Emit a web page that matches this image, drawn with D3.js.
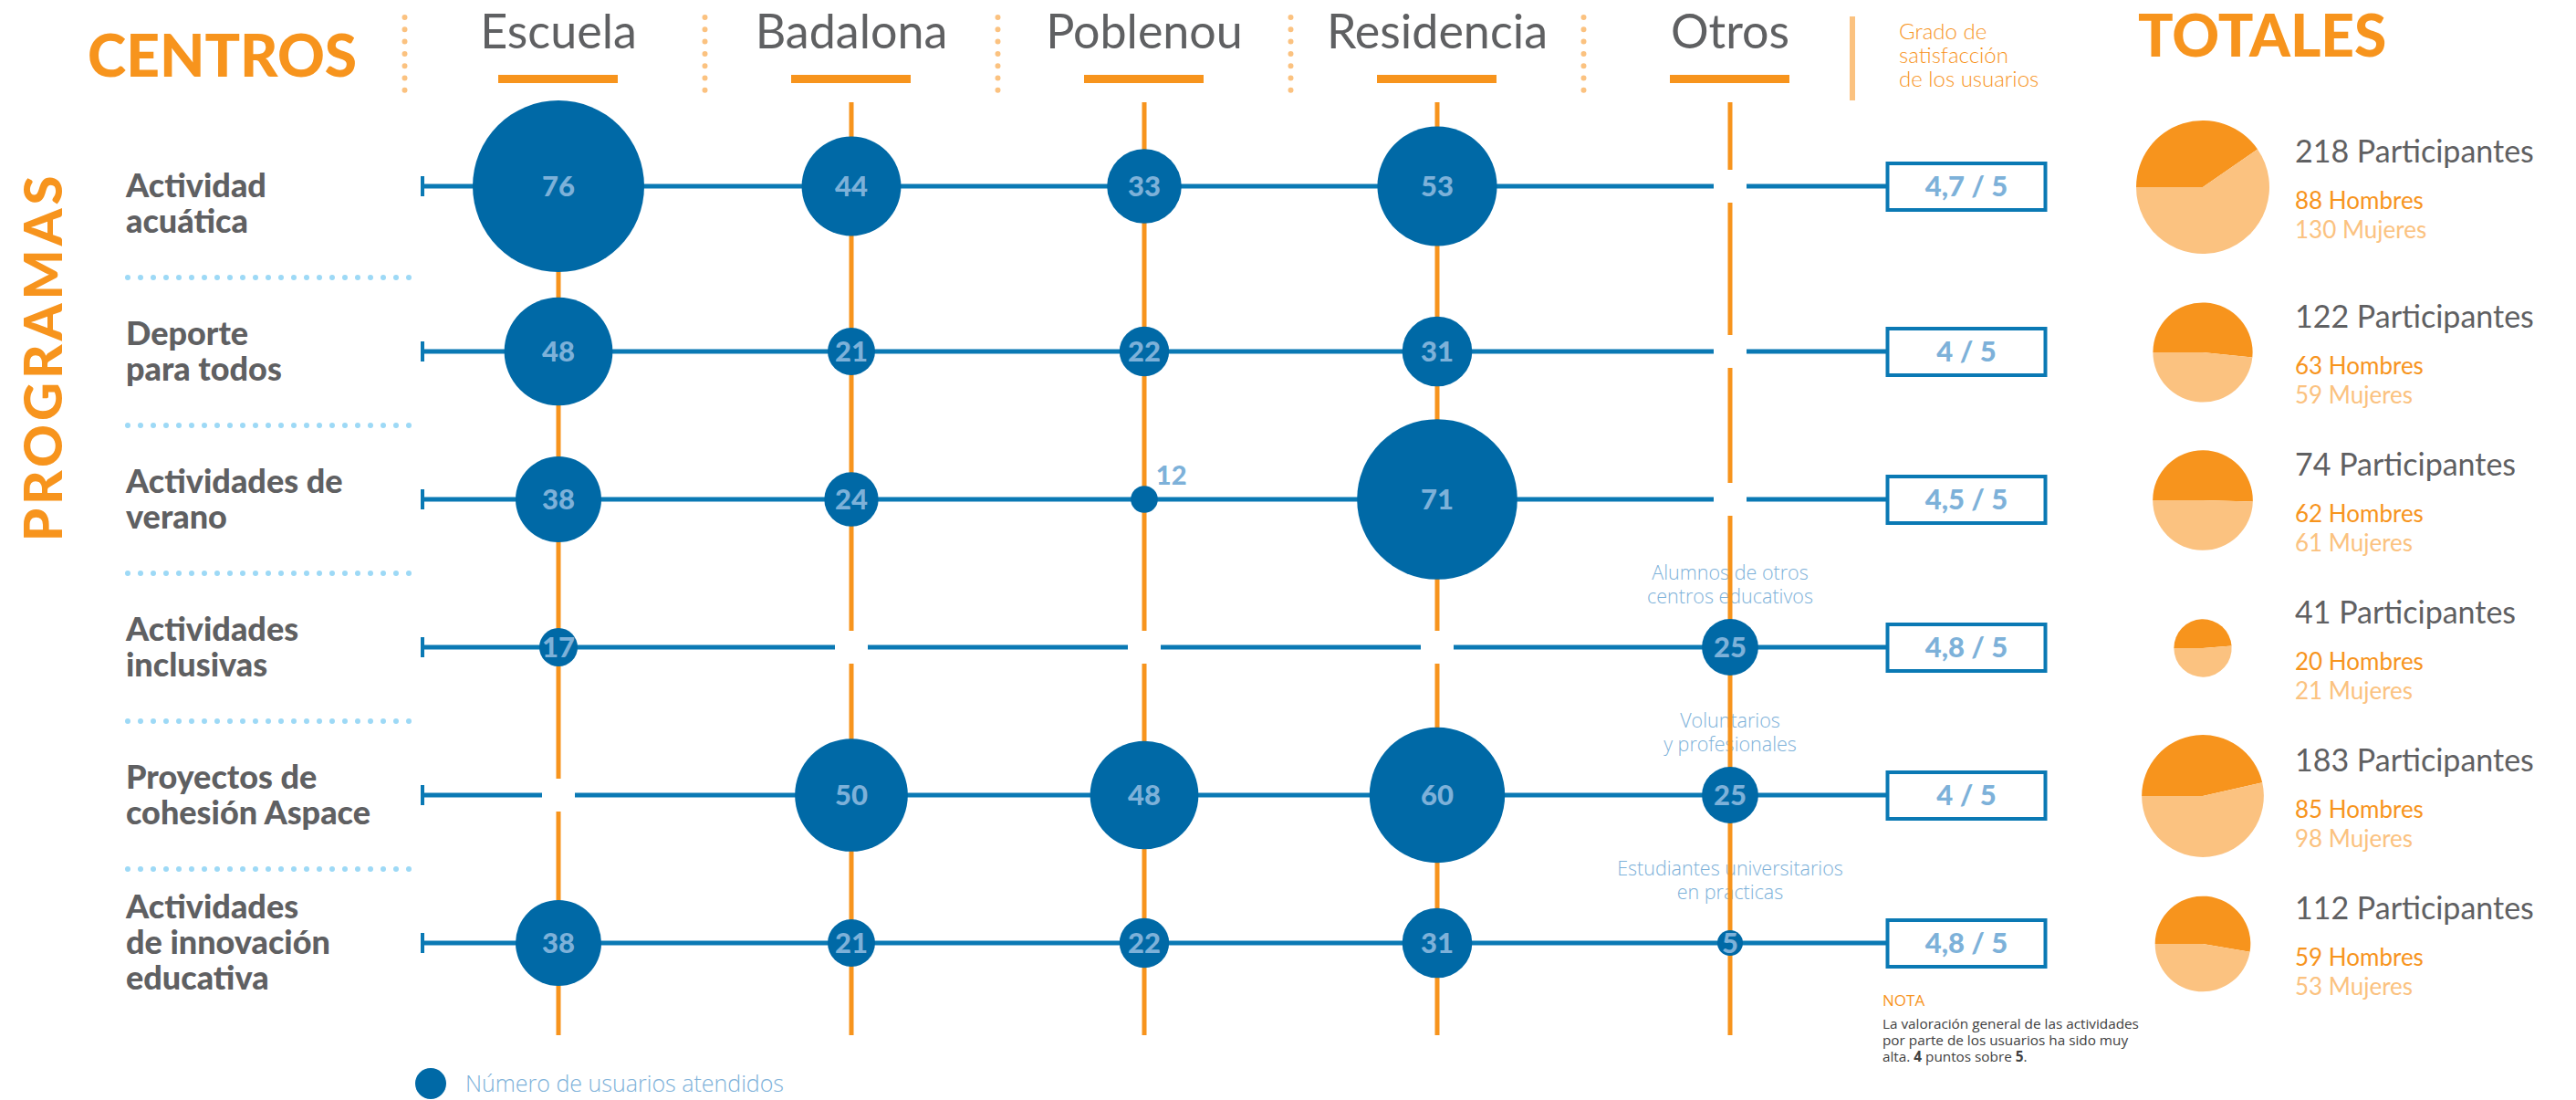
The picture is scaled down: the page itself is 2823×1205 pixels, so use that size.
<!DOCTYPE html>
<html>
<head>
<meta charset="utf-8">
<script src="https://cdn.jsdelivr.net/npm/d3@7"></script>
<style>
  html, body { margin: 0; padding: 0; background: #fff; }
  svg { display: block; font-family: Lato, "Noto Sans", sans-serif; }
</style>
</head>
<body>
<svg id="chart" width="2823" height="1205"></svg>
<script>
// --- datos ---
var centros = ["Escuela", "Badalona", "Poblenou", "Residencia", "Otros"];
var programas = [
    "Actividad acuática",
    "Deporte para todos",
    "Actividades de verano",
    "Actividades inclusivas",
    "Proyectos de cohesión Aspace",
    "Actividades de innovación educativa"
];
var etiquetasProgramas = [
    ["Actividad", "acuática"],
    ["Deporte", "para todos"],
    ["Actividades de", "verano"],
    ["Actividades", "inclusivas"],
    ["Proyectos de", "cohesión Aspace"],
    ["Actividades", "de innovación", "educativa"]
];
// usuarios atendidos, una fila por programa, una columna por centro (null = sin dato)
var usuarios = [
    [76, 44, 33, 53, null],
    [48, 21, 22, 31, null],
    [38, 24, 12, 71, null],
    [17, null, null, null, 25],
    [null, 50, 48, 60, 25],
    [38, 21, 22, 31, 5]
];
var satisfaccion = ["4,7 / 5", "4 / 5", "4,5 / 5", "4,8 / 5", "4 / 5", "4,8 / 5"];
var notasOtros = [
    null, null, null,
    ["Alumnos de otros", "centros educativos"],
    ["Voluntarios", "y profesionales"],
    ["Estudiantes universitarios", "en prácticas"]
];
var participantes = [218, 122, 74, 41, 183, 112];
var hombres = [88, 63, 62, 20, 85, 59];
var mujeres = [130, 59, 61, 21, 98, 53];

// --- colores ---
var naranja = "#F7941D",
    naranjaClaro = "#FBC280",
    azul = "#0069A6",
    azulLinea = "#0A79B4",
    azulTexto = "#7DB1D9",
    azulPuntos = "#9DD9F6",
    gris = "#5F6062";

var svg = d3.select("#chart");

var x = d3.scalePoint().domain(centros).range([612, 1896]);
var band = d3.scaleBand().domain(programas).range([142, 1114]);
// la primera fila va un poco mas arriba en el original
var rowNudge = [-19, 0, 0, 0, 0, 0];
function rowY(i) {
    return band(programas[i]) + band.bandwidth() / 2 + rowNudge[i];
}
var r = d3.scaleLinear().domain([0, 76]).range([0, 94]);
var pieR = d3.scaleSqrt().domain([0, 218]).range([0, 73]);

var cells = [];
usuarios.forEach(function(row, i) {
    row.forEach(function(v, j) {
        cells.push({row: i, centro: centros[j], value: v});
    });
});

// --- cabecera ---
svg.append("text")
    .attr("x", 96).attr("y", 84)
    .attr("fill", naranja)
    .style("font-size", "64px").style("font-weight", 900)
    .text("CENTROS");

svg.append("text")
    .attr("transform", "translate(68,391) rotate(-90)")
    .attr("text-anchor", "middle")
    .attr("fill", naranja)
    .style("font-size", "58px").style("font-weight", 900)
    .style("letter-spacing", "4px")
    .text("PROGRAMAS");

var head = svg.append("g").attr("class", "head");
head.selectAll("text")
    .data(centros)
    .enter().append("text")
    .attr("x", function(d) { return x(d); })
    .attr("y", 53)
    .attr("text-anchor", "middle")
    .attr("fill", gris)
    .style("font-size", "52px")
    .text(function(d) { return d; });

head.selectAll("rect")
    .data(centros)
    .enter().append("rect")
    .attr("x", function(d) { return x(d) - 66; })
    .attr("y", 82)
    .attr("width", 131)
    .attr("height", 9)
    .attr("fill", naranja);

// separadores punteados entre centros
var sepX = [x(centros[0]) - x.step() / 2 - 8];
for (var k = 1; k < centros.length; k++) {
    sepX.push((x(centros[k - 1]) + x(centros[k])) / 2);
}
head.selectAll("line")
    .data(sepX)
    .enter().append("line")
    .attr("x1", function(d) { return d; })
    .attr("x2", function(d) { return d; })
    .attr("y1", 19).attr("y2", 112)
    .attr("stroke", naranjaClaro)
    .attr("stroke-width", 6)
    .attr("stroke-linecap", "round")
    .attr("stroke-dasharray", "0 13.3");

// grado de satisfaccion (cabecera)
svg.append("rect")
    .attr("x", 2027).attr("y", 18)
    .attr("width", 6).attr("height", 92)
    .attr("fill", naranjaClaro);
svg.append("text")
    .attr("x", 2081).attr("y", 43)
    .attr("fill", naranja)
    .style("font-size", "24px").style("font-weight", 300)
    .selectAll("tspan")
    .data(["Grado de", "satisfacción", "de los usuarios"])
    .enter().append("tspan")
    .attr("x", 2081)
    .attr("dy", function(d, i) { return i ? 26 : 0; })
    .text(function(d) { return d; });

svg.append("text")
    .attr("x", 2343).attr("y", 62)
    .attr("fill", naranja)
    .style("font-size", "64px").style("font-weight", 900)
    .text("TOTALES");

// --- etiquetas de programas ---
var labels = svg.append("g").attr("class", "labels");
labels.selectAll("text")
    .data(programas)
    .enter().append("text")
    .attr("fill", gris)
    .style("font-size", "36px").style("font-weight", 900)
    .each(function(d, i) {
        var lines = etiquetasProgramas[i];
        var cy = band(d) + band.bandwidth() / 2;
        var y0 = cy - (lines.length - 1) * 39 / 2 + 12;
        d3.select(this).selectAll("tspan")
            .data(lines)
            .enter().append("tspan")
            .attr("x", 138)
            .attr("y", function(t, j) { return y0 + j * 39; })
            .text(function(t) { return t; });
    });

labels.selectAll("line")
    .data(programas.slice(1))
    .enter().append("line")
    .attr("x1", 140).attr("x2", 460)
    .attr("y1", function(d) { return band(d); })
    .attr("y2", function(d) { return band(d); })
    .attr("stroke", azulPuntos)
    .attr("stroke-width", 6)
    .attr("stroke-linecap", "round")
    .attr("stroke-dasharray", "0 14");

// --- notas de la columna Otros ---
var notas = svg.append("g").attr("class", "notas");
notasOtros.forEach(function(n, i) {
    if (!n) return;
    notas.append("text")
        .attr("text-anchor", "middle")
        .attr("fill", azulTexto)
        .style("font-family", "'Open Sans', sans-serif")
        .style("font-size", "21.5px").style("font-weight", 300)
        .selectAll("tspan")
        .data(n)
        .enter().append("tspan")
        .attr("x", x("Otros"))
        .attr("y", function(t, j) { return rowY(i) - 74 + j * 26; })
        .text(function(t) { return t; });
});

// --- rejilla ---
var grid = svg.append("g").attr("class", "grid");
grid.selectAll("line.v")
    .data(centros)
    .enter().append("line")
    .attr("class", "v")
    .attr("x1", function(d) { return x(d); })
    .attr("x2", function(d) { return x(d); })
    .attr("y1", 112).attr("y2", 1134)
    .attr("stroke", naranja)
    .attr("stroke-width", 5);

grid.selectAll("line.h")
    .data(programas)
    .enter().append("line")
    .attr("class", "h")
    .attr("x1", 462).attr("x2", 2067)
    .attr("y1", function(d, i) { return rowY(i); })
    .attr("y2", function(d, i) { return rowY(i); })
    .attr("stroke", azulLinea)
    .attr("stroke-width", 5);

grid.selectAll("line.tick")
    .data(programas)
    .enter().append("line")
    .attr("class", "tick")
    .attr("x1", 463).attr("x2", 463)
    .attr("y1", function(d, i) { return rowY(i) - 11; })
    .attr("y2", function(d, i) { return rowY(i) + 11; })
    .attr("stroke", azulLinea)
    .attr("stroke-width", 4);

// huecos blancos donde no hay dato
grid.selectAll("rect.gap")
    .data(cells.filter(function(c) { return c.value === null; }))
    .enter().append("rect")
    .attr("class", "gap")
    .attr("x", function(d) { return x(d.centro) - 18; })
    .attr("y", function(d) { return rowY(d.row) - 18; })
    .attr("width", 36).attr("height", 36)
    .attr("fill", "#fff");

// --- burbujas ---
var bubbles = svg.append("g").attr("class", "bubbles")
    .selectAll("g")
    .data(cells.filter(function(c) { return c.value !== null; }))
    .enter().append("g")
    .attr("transform", function(d) {
        return "translate(" + x(d.centro) + "," + rowY(d.row) + ")";
    });

bubbles.append("circle")
    .attr("r", function(d) { return Math.max(r(d.value), 14); })
    .attr("fill", azul);

bubbles.append("text")
    .attr("fill", azulTexto)
    .style("font-weight", 900)
    .each(function(d) {
        var rad = Math.max(r(d.value), 14);
        var outside = rad < 16 && String(d.value).length > 1;
        d3.select(this)
            .attr("text-anchor", outside ? "start" : "middle")
            .attr("x", outside ? rad - 2 : 0)
            .attr("y", outside ? -rad - 1 : 11)
            .style("font-size", outside ? "29px" : "31px");
    })
    .text(function(d) { return d.value; });

// --- grado de satisfaccion por programa ---
var boxes = svg.append("g").attr("class", "boxes")
    .selectAll("g")
    .data(satisfaccion)
    .enter().append("g")
    .attr("transform", function(d, i) { return "translate(2067," + rowY(i) + ")"; });

boxes.append("rect")
    .attr("x", 1.5).attr("y", -25)
    .attr("width", 173).attr("height", 51)
    .attr("fill", "#fff")
    .attr("stroke", azulLinea)
    .attr("stroke-width", 4);

boxes.append("text")
    .attr("x", 88).attr("y", 11)
    .attr("text-anchor", "middle")
    .attr("fill", azulTexto)
    .style("font-size", "31px").style("font-weight", 900)
    .text(function(d) { return d; });

// --- totales ---
var pie = d3.pie().sort(null).startAngle(-Math.PI / 2).endAngle(Math.PI * 1.5);
var arc = d3.arc().innerRadius(0);

var totals = svg.append("g").attr("class", "totals")
    .selectAll("g")
    .data(participantes)
    .enter().append("g")
    .attr("transform", function(d, i) { return "translate(2414," + (rowY(i) + 1) + ")"; });

totals.each(function(d, i) {
    var g = d3.select(this);
    var rad = pieR(hombres[i] + mujeres[i]);
    g.selectAll("path")
        .data(pie([hombres[i], mujeres[i]]))
        .enter().append("path")
        .attr("d", function(s) { return arc.outerRadius(rad)(s); })
        .attr("fill", function(s, k) { return k ? naranjaClaro : naranja; });

    g.append("text")
        .attr("x", 101).attr("y", -27)
        .attr("fill", gris)
        .style("font-size", "34px")
        .text(d + " Participantes");
    g.append("text")
        .attr("x", 101).attr("y", 24)
        .attr("fill", naranja)
        .style("font-size", "26px")
        .text(hombres[i] + " Hombres");
    g.append("text")
        .attr("x", 101).attr("y", 56)
        .attr("fill", naranjaClaro)
        .style("font-size", "26px")
        .text(mujeres[i] + " Mujeres");
});

// --- nota ---
var nota = svg.append("g").attr("class", "nota")
    .style("font-family", "'Open Sans', sans-serif");
nota.append("text")
    .attr("x", 2063).attr("y", 1102)
    .attr("fill", naranja)
    .style("font-size", "17px")
    .text("NOTA");
var notaTxt = nota.append("text")
    .attr("fill", "#404040")
    .style("font-size", "15.3px");
notaTxt.append("tspan").attr("x", 2063).attr("y", 1127)
    .text("La valoración general de las actividades");
notaTxt.append("tspan").attr("x", 2063).attr("y", 1145)
    .text("por parte de los usuarios ha sido muy");
var l3 = notaTxt.append("tspan").attr("x", 2063).attr("y", 1163);
l3.append("tspan").text("alta. ");
l3.append("tspan").style("font-weight", 700).text("4");
l3.append("tspan").text(" puntos sobre ");
l3.append("tspan").style("font-weight", 700).text("5");
l3.append("tspan").text(".");

// --- leyenda ---
svg.append("circle")
    .attr("cx", 472).attr("cy", 1187)
    .attr("r", 17)
    .attr("fill", azul);
svg.append("text")
    .attr("x", 510).attr("y", 1196)
    .attr("fill", azulTexto)
    .style("font-family", "'Open Sans', sans-serif")
    .style("font-size", "25px").style("font-weight", 300)
    .text("Número de usuarios atendidos");
</script>
</body>
</html>
